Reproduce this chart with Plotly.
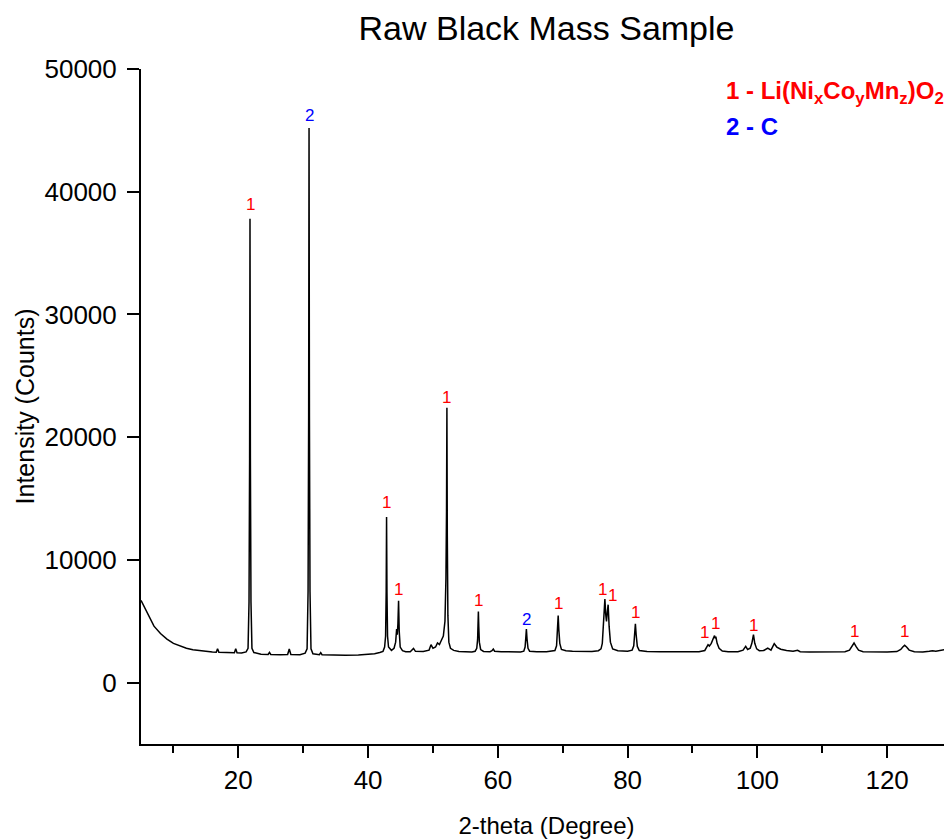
import plotly.graph_objects as go

# ---- data ----
two_theta = [
    5.0, 5.5, 6.0, 7.0, 8.0, 9.0, 10.0, 11.0, 12.0, 13.0, 14.0, 15.0, 16.0,
    16.6, 16.8, 17.0, 18.0, 19.0, 19.4, 19.6, 19.8, 20.5,
    21.2, 21.5, 21.65, 21.74, 21.8, 21.86, 21.95, 22.1, 22.4,
    23.5, 24.6, 24.8, 25.0, 26.5, 27.6, 27.85, 28.1, 29.5,
    30.3, 30.6, 30.75, 30.84, 30.9, 30.96, 31.05, 31.2, 31.5,
    32.5, 32.7, 32.9, 34.5, 36.5, 38.5, 40.0, 41.0, 41.8,
    42.3, 42.55, 42.7, 42.79, 42.85, 42.91, 43.0, 43.15, 43.45,
    43.6, 44.0, 44.25, 44.4, 44.5, 44.6, 44.7, 44.8, 44.95, 45.3, 45.8,
    46.5, 47.0, 47.3, 48.5, 49.4, 49.7, 50.0, 50.4, 50.7, 51.0, 51.3,
    51.6, 51.85, 52.0, 52.09, 52.15, 52.21, 52.3, 52.45, 52.7, 53.2, 54.0, 55.0, 56.0,
    56.5, 56.75, 56.88, 56.95, 57.0, 57.06, 57.15, 57.35, 57.8,
    58.8, 59.1, 59.3, 59.5, 60.5, 62.0, 63.5,
    64.0, 64.2, 64.3, 64.4, 64.5, 64.65, 64.9, 66.0, 67.5, 68.5,
    68.8, 69.05, 69.18, 69.3, 69.4, 69.55, 69.8, 70.5, 71.5, 73.0, 74.5, 75.5,
    75.9, 76.1, 76.3, 76.5, 76.62, 76.75, 76.88, 77.0, 77.15, 77.35, 77.7, 78.5, 80.0, 80.7,
    80.95, 81.1, 81.2, 81.32, 81.5, 81.8, 83.0, 85.0, 87.0, 89.0, 91.0, 91.9,
    92.2, 92.4, 92.6, 92.9, 93.2, 93.4, 93.5, 93.6, 93.8, 94.1, 94.6, 95.5, 97.0,
    97.8, 98.2, 98.5, 98.9, 99.15, 99.4, 99.6, 99.9, 100.3, 101.0, 101.6, 102.1,
    102.6, 103.0, 103.6, 104.5, 105.5, 106.2, 106.6, 108.0, 110.0, 112.0, 113.5,
    114.2, 114.6, 114.9, 115.2, 115.6, 116.3, 118.0, 120.0, 121.5,
    122.1, 122.45, 122.7, 123.0, 123.4, 124.2, 125.5, 126.5, 127.0, 127.5,
    128.3, 128.8, 129.3, 130.0,
]
intensity = [
    6700, 6150, 5600, 4600, 4000, 3550, 3200, 3000, 2800, 2680, 2600, 2550, 2500,
    2480, 2770, 2470, 2450, 2430, 2440, 2770, 2430, 2410,
    2500, 2800, 6600, 18300, 37800, 18300, 6600, 2800, 2450,
    2320, 2300, 2470, 2300, 2280, 2290, 2740, 2290, 2280,
    2400, 2750, 7400, 21600, 45200, 21600, 7400, 2750, 2350,
    2280, 2450, 2280, 2250, 2240, 2260, 2300, 2350, 2450,
    2550, 2900, 3800, 7400, 13500, 7400, 3800, 2900, 2650,
    2630, 2800, 3300, 4370, 3900, 4800, 6680, 4200, 2900, 2600, 2520,
    2520, 2790, 2550, 2530, 2650, 3090, 2800, 2900, 3230, 3100, 3450,
    3800, 5000, 8500, 14000, 22400, 12000, 5500, 3300, 2800, 2630, 2540, 2520, 2500,
    2560, 2800, 3500, 4700, 5800, 4600, 3300, 2700, 2540,
    2520, 2600, 2740, 2560, 2520, 2500, 2500,
    2560, 2900, 3600, 4370, 3550, 2800, 2560, 2510, 2520, 2560,
    2620, 3000, 3900, 5460, 4300, 3200, 2700, 2600, 2560, 2540, 2540, 2600,
    2750, 3200, 4800, 6810, 5600, 4990, 5800, 6350, 4600, 3300, 2750, 2600, 2560, 2650,
    3000, 3900, 4800, 3900, 2950, 2620, 2540, 2520, 2500, 2520, 2520, 2620,
    2900, 3090, 2980, 3200, 3600, 3830, 3600, 3750, 3200, 2800, 2580, 2520, 2520,
    2650, 2960, 2700, 2800, 3200, 3910, 3200, 2750, 2600, 2620, 2820, 2650,
    3180, 2900, 2720, 2620, 2550, 2630, 2520, 2500, 2490, 2500, 2520,
    2650, 2950, 3230, 2950, 2650, 2520, 2500, 2500, 2530,
    2700, 2920, 3040, 2900, 2650, 2520, 2500, 2550, 2600, 2560,
    2620, 2690, 2600, 2520,
]

# peak identification labels
label_x = [21.8, 30.9, 42.85, 44.75, 52.15, 57.0, 64.4, 69.3, 76.15, 77.6, 81.2,
           91.9, 93.6, 99.4, 114.9, 122.7]
label_y = [38930, 46250, 14660, 7600, 23210, 6720, 5130, 6430, 7570, 7085, 5730,
           4070, 4800, 4640, 4130, 4150]
label_text = ["1", "2", "1", "1", "1", "1", "2", "1", "1", "1", "1",
              "1", "1", "1", "1", "1"]

x_ticks = [20, 40, 60, 80, 100, 120]
x_tick_labels = ["20", "40", "60", "80", "100", "120"]
y_ticks = [0, 10000, 20000, 30000, 40000, 50000]
y_tick_labels = ["0", "10000", "20000", "30000", "40000", "50000"]

phase_lines = [
    "<b>1 - Li(Ni<sub>x</sub>Co<sub>y</sub>Mn<sub>z</sub>)O<sub>2</sub></b>",
    "<b>2 - C</b>",
]
phase_colors = ["#FF0000", "#0000FF"]

FONT = "Liberation Sans, Arial, sans-serif"

# the page body has an 8 px margin, so the figure is drawn 8 px in from the corner
W, H = 944, 831

fig = go.Figure()
fig.add_trace(go.Scatter(
    x=two_theta, y=intensity, mode="lines",
    line=dict(color="black", width=1.5),
    showlegend=False, hoverinfo="skip",
))

for lx, ly, lt in zip(label_x, label_y, label_text):
    fig.add_annotation(
        x=lx, y=ly, text=lt, showarrow=False, xref="x", yref="y",
        xanchor="center", yanchor="middle",
        font=dict(family=FONT, size=17, color="#FF0000" if lt == "1" else "#0000FF"),
    )

fig.add_annotation(
    x=94.9, y=48050, xref="x", yref="y", text=phase_lines[0], showarrow=False,
    xanchor="left", yanchor="middle",
    font=dict(family=FONT, size=24, color=phase_colors[0]),
)
fig.add_annotation(
    x=94.9, y=45300, xref="x", yref="y", text=phase_lines[1], showarrow=False,
    xanchor="left", yanchor="middle",
    font=dict(family=FONT, size=24, color=phase_colors[1]),
)

fig.update_layout(
    width=W, height=H,
    margin=dict(l=133, r=0, t=61, b=95),
    paper_bgcolor="white", plot_bgcolor="white",
    font=dict(family=FONT, color="black"),
    title=dict(
        text="Raw Black Mass Sample", x=0.5, xref="paper", xanchor="center",
        y=1 - 20 / H, yref="container", yanchor="middle",
        font=dict(family=FONT, size=34, color="black"),
    ),
)

fig.update_xaxes(
    range=[5, 130], tickvals=x_ticks, ticktext=x_tick_labels,
    ticks="outside", ticklen=12, tickwidth=1.5,
    tickcolor="black", showline=True, linewidth=2, linecolor="black",
    showgrid=False, zeroline=False, automargin=False,
    minor=dict(dtick=10, tick0=0, ticks="outside", ticklen=7, tickwidth=1.5,
               tickcolor="black", showgrid=False),
    tickfont=dict(family=FONT, size=26, color="black"),
    title=dict(text="2-theta (Degree)", font=dict(family=FONT, size=24, color="black"),
               standoff=25),
)
fig.update_yaxes(
    range=[-5000, 50000], tickvals=y_ticks, ticktext=y_tick_labels,
    ticks="outside", ticklen=12, tickwidth=1.5,
    tickcolor="black", showline=True, linewidth=2, linecolor="black",
    showgrid=False, zeroline=False, automargin=False,
    tickfont=dict(family=FONT, size=26, color="black"),
    ticklabelstandoff=5,
    title=dict(text="Intensity (Counts)", font=dict(family=FONT, size=25, color="black"),
               standoff=3),
)

fig.write_html("out.html")
